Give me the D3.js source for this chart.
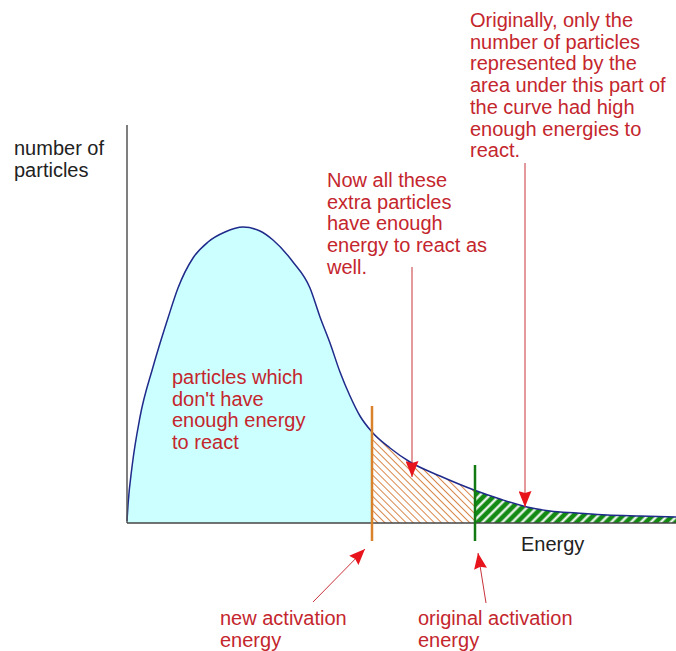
<!DOCTYPE html>
<html>
<head>
<meta charset="utf-8">
<script src="https://cdn.jsdelivr.net/npm/d3@7"></script>
<style>
  body { margin: 0; background: #fff; }
  text { font-family: "Liberation Sans", Arial, sans-serif; }
</style>
</head>
<body>
<div id="chart"></div>
<script>
// energy distribution curve
var energy = [0, 0.1, 0.5, 1.3, 2.6, 4.1, 5.1, 6.6, 8.1, 9.8, 11.6, 13.3, 14.6, 16.6, 18.3, 19.3,
              20.3, 21.3, 22.3, 23.3, 24.5, 26.3, 28.3, 31.3, 34.7, 37.3, 40, 42.3, 45, 48, 51.3, 54.9];
var particles = [0.5, 4.5, 14, 26.5, 39, 51.25, 58.75, 66.25, 70.25, 72.75, 74, 73, 70.75, 65.25, 58.75, 51.5,
                 45, 37.75, 31.75, 26.75, 22.75, 18.75, 15.25, 11.75, 8.25, 6, 4, 3, 2.5, 2, 1.75, 1.5];

var newActivation = 24.5;
var originalActivation = 34.8;

var axisLabels = ["number of", "particles"];
var xLabel = "Energy";

var W = 676, H = 651;
var svg = d3.select("#chart").append("svg")
    .attr("width", W).attr("height", H);

var x = d3.scaleLinear().domain([0, 54.9]).range([127, 676]);
var y = d3.scaleLinear().domain([0, 100]).range([523, 123]);

var pts = energy.map(function (e, i) { return [e, particles[i]]; });

var defs = svg.append("defs");

// orange "\" hatch on white
var po = defs.append("pattern").attr("id", "hatchOrange")
    .attr("patternUnits", "userSpaceOnUse").attr("width", 5).attr("height", 5)
    .attr("patternTransform", "rotate(-45)");
po.append("rect").attr("width", 5).attr("height", 5).attr("fill", "#fff");
po.append("line").attr("x1", 2.5).attr("y1", 0).attr("x2", 2.5).attr("y2", 5)
    .attr("stroke", "#d8874a").attr("stroke-width", 1);

// white "/" hatch on green
var pg = defs.append("pattern").attr("id", "hatchGreen")
    .attr("patternUnits", "userSpaceOnUse").attr("width", 7).attr("height", 7)
    .attr("patternTransform", "rotate(45)");
pg.append("rect").attr("width", 7).attr("height", 7).attr("fill", "#138a13");
pg.append("line").attr("x1", 3.5).attr("y1", 0).attr("x2", 3.5).attr("y2", 7)
    .attr("stroke", "#fff").attr("stroke-width", 2.2);

// clip regions for the three parts under the curve
var parts = [
  { id: "clipLow", from: 0, to: newActivation, fill: "#ccffff" },
  { id: "clipMid", from: newActivation, to: originalActivation, fill: "url(#hatchOrange)" },
  { id: "clipHigh", from: originalActivation, to: 54.9, fill: "url(#hatchGreen)" }
];
parts.forEach(function (p) {
  defs.append("clipPath").attr("id", p.id).append("rect")
      .attr("x", x(p.from)).attr("y", 0)
      .attr("width", x(p.to) - x(p.from)).attr("height", H);
});

defs.append("marker").attr("id", "head")
    .attr("viewBox", "0 0 16 13").attr("refX", 16).attr("refY", 6.5)
    .attr("markerWidth", 16).attr("markerHeight", 13)
    .attr("markerUnits", "userSpaceOnUse").attr("orient", "auto")
  .append("path").attr("d", "M0,0 L16,6.5 L0,13 L2,6.5 Z").attr("fill", "#e8141c");

var area = d3.area()
    .x(function (d) { return x(d[0]); })
    .y0(y(0))
    .y1(function (d) { return y(d[1]); })
    .curve(d3.curveMonotoneX);

var line = d3.line()
    .x(function (d) { return x(d[0]); })
    .y(function (d) { return y(d[1]); })
    .curve(d3.curveMonotoneX);

parts.forEach(function (p) {
  svg.append("path").datum(pts)
      .attr("d", area)
      .attr("fill", p.fill)
      .attr("clip-path", "url(#" + p.id + ")");
});

svg.append("path").datum(pts)
    .attr("d", line)
    .attr("fill", "none")
    .attr("stroke", "#1f2a8a")
    .attr("stroke-width", 1.5);

// axes
svg.append("line")
    .attr("x1", x(0)).attr("y1", y(0)).attr("x2", x(0)).attr("y2", y(99.5))
    .attr("stroke", "#555").attr("stroke-width", 1.5);
svg.append("line")
    .attr("x1", x(0)).attr("y1", y(0)).attr("x2", x(54.9)).attr("y2", y(0))
    .attr("stroke", "#444").attr("stroke-width", 1.5);

// activation energy markers
svg.append("line")
    .attr("x1", x(newActivation)).attr("x2", x(newActivation))
    .attr("y1", y(29.25)).attr("y2", y(-4.5))
    .attr("stroke", "#d9822b").attr("stroke-width", 2.5);
svg.append("line")
    .attr("x1", x(originalActivation)).attr("x2", x(originalActivation))
    .attr("y1", y(14.5)).attr("y2", y(-4.5))
    .attr("stroke", "#137a13").attr("stroke-width", 2.5);

// arrows (data units)
var arrows = [
  [28.5, 64, 28.5, 11.5],
  [39.8, 90, 39.8, 4],
  [18.6, -19.75, 23.8, -6.5],
  [35.9, -20, 35.1, -7.5]
];
svg.selectAll(".arrow").data(arrows).enter().append("line")
    .attr("class", "arrow")
    .attr("x1", function (d) { return x(d[0]); })
    .attr("y1", function (d) { return y(d[1]); })
    .attr("x2", function (d) { return x(d[2]); })
    .attr("y2", function (d) { return y(d[3]); })
    .attr("stroke", "#c8323a").attr("stroke-width", 1)
    .attr("marker-end", "url(#head)");

// text
var red = "#c4262d";
function block(lines, x0, y0, color) {
  var t = svg.append("text").attr("x", x0).attr("y", y0)
      .attr("font-size", 20).attr("fill", color);
  lines.forEach(function (s, i) {
    t.append("tspan").attr("x", x0).attr("dy", i === 0 ? 0 : 21.7).text(s);
  });
}

block(axisLabels, 14, 155, "#222");
block([xLabel], 521, 551, "#222");
block(["particles which", "don't have", "enough energy", "to react"], 172, 384, red);
block(["Now all these", "extra particles", "have enough", "energy to react as", "well."], 327, 187, red);
block(["Originally, only the", "number of particles", "represented by the", "area under this part of",
       "the curve had high", "enough energies to", "react."], 470, 27, red);
block(["new activation", "energy"], 220, 625, red);
block(["original activation", "energy"], 418, 625, red);
</script>
</body>
</html>
